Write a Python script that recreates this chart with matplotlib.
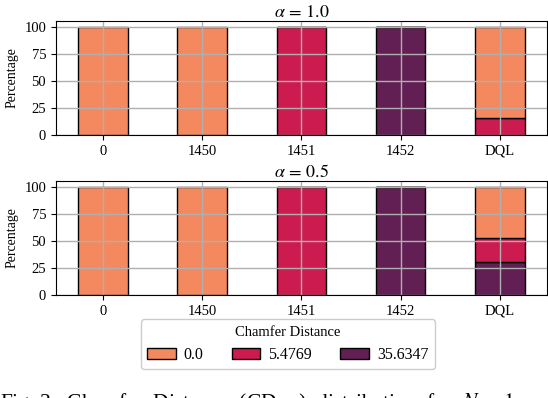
import matplotlib.pyplot as plt
import numpy as np

plt.rcParams['font.family'] = ['Liberation Serif', 'DejaVu Serif']
plt.rcParams['mathtext.fontset'] = 'stix'

models = ['0', '1450', '1451', '1452', 'DQL']
cd_levels = ['0.0', '5.4769', '35.6347']
colors = ['#f4895f', '#cb1b4f', '#611f53']

# percentage per chamfer distance level, one row per alpha
pct_alpha10 = {
    '0.0':     [100, 100, 0, 0, 84],
    '5.4769':  [0, 0, 100, 0, 16],
    '35.6347': [0, 0, 0, 100, 0],
}
pct_alpha05 = {
    '0.0':     [100, 100, 0, 0, 47.5],
    '5.4769':  [0, 0, 100, 0, 22.5],
    '35.6347': [0, 0, 0, 100, 30],
}
panels = [(r'$\alpha\,=\,1.0$', pct_alpha10), (r'$\alpha\,=\,0.5$', pct_alpha05)]

fig = plt.figure(figsize=(5.48, 3.98), dpi=100)
ax1 = fig.add_axes([0.102, 0.661, 0.896, 0.286])
ax2 = fig.add_axes([0.102, 0.259, 0.896, 0.286])

x = np.arange(len(models))
handles = {}
for ax, (title, pct) in zip([ax1, ax2], panels):
    bottom = np.zeros(len(models))
    # stack from highest distance at the bottom
    for lvl, c in reversed(list(zip(cd_levels, colors))):
        vals = np.array(pct[lvl], dtype=float)
        b = ax.bar(x, vals, 0.5, bottom=bottom, color=c, edgecolor='black',
                   linewidth=1.0, label=lvl)
        handles[lvl] = b
        bottom += vals
    ax.set_xticks(x)
    ax.set_xticklabels(models, fontsize=10.5)
    ax.set_yticks([0, 25, 50, 75, 100])
    ax.set_ylim(0, 105)
    ax.tick_params(axis='y', labelsize=10.5)
    ax.set_ylabel('Percentage', fontsize=10)
    ax.set_title(title, fontsize=13, pad=3)
    ax.grid(True, color='#b0b0b0', linewidth=1.0)

fig.legend([handles[l] for l in cd_levels], cd_levels, title='Chamfer Distance',
           ncol=3, loc='upper center', bbox_to_anchor=(0.525, 0.2175),
           fontsize=11.5, title_fontsize=10.5, columnspacing=1.75,
           handlelength=1.8, handletextpad=0.5, framealpha=1, edgecolor='#cccccc')

fig.text(0.0, -0.025,
         r'Fig. 2:  Chamfer  Distance  (CD$_{\mathrm{avg}}$)  distribution  for  $N\,=\,1$',
         fontsize=15.5, ha='left', va='baseline')

fig.savefig('out.png', dpi=100)
